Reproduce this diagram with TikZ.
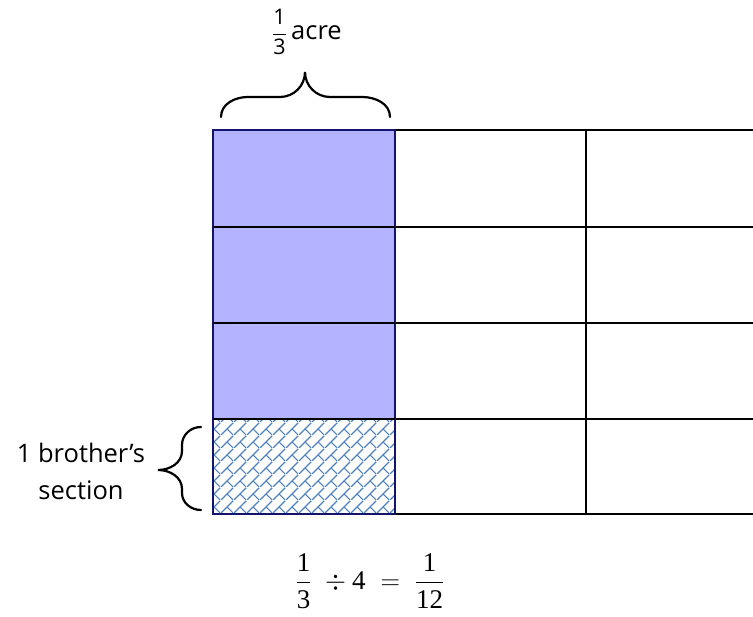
\RequirePackage{fix-cm}
\documentclass[tikz,border=0pt]{standalone}
\usepackage{amsmath}
\usepackage{fontspec}
\setmainfont{Open Sans}
\newfontfamily\eqfont{Liberation Serif}
\usepackage{tikz}
\usetikzlibrary{patterns, positioning, calc}

\definecolor{lavender}{RGB}{179,179,255}
\definecolor{navyline}{RGB}{20,20,110}
\definecolor{hatchblue}{RGB}{79,129,189}

\newcommand{\eqtxt}[1]{\text{\eqfont #1}}

% diagonal brick hatch
\pgfdeclarepatternformonly{diagbrick}{\pgfpointorigin}{\pgfpoint{13pt}{13pt}}{\pgfpoint{13pt}{13pt}}{
  \pgfsetlinewidth{1.2pt}
  \pgfpathmoveto{\pgfpointorigin}
  \pgfpathlineto{\pgfpoint{13pt}{13pt}}
  \pgfpathmoveto{\pgfpoint{6.5pt}{6.5pt}}
  \pgfpathlineto{\pgfpoint{13pt}{0pt}}
  \pgfusepath{stroke}
}

\begin{document}
\begin{tikzpicture}[x=1pt, y=1pt,
    gridline/.style={line width=2pt, black},
    label/.style={font=\fontsize{25.5}{37}\selectfont, align=center, inner sep=0pt},
    bracket/.style={line width=2.2pt, line cap=round}]
  \useasboundingbox (0,0) rectangle (753,617);

  % Grid corners
  \coordinate (TL) at (213,487);
  \coordinate (BL) at (213,103);
  \coordinate (C1) at (395,198);

  % Shaded third
  \fill[lavender] (213,198) rectangle (395,487);
  \fill[pattern=diagbrick, pattern color=hatchblue] (BL) rectangle (C1);

  % Grid lines (right side open)
  \foreach \y in {103,198,294,390,487}
    \draw[gridline] (213,\y) -- (753,\y);
  \foreach \x in {213,395,586}
    \draw[gridline] (\x,103) -- (\x,487);

  % Border of the first column
  \draw[navyline, line width=1.5pt] (BL) rectangle (395,487);
  \draw[gridline] (213,198) -- (395,198);
  \draw[gridline] (213,294) -- (395,294);
  \draw[gridline] (213,390) -- (395,390);

  % Top bracket
  \coordinate (ta) at (221,500);
  \coordinate (tb) at (390,500);
  \coordinate (tt) at (305,545);
  \draw[bracket] (ta) to[out=90, in=180] (248,520) -- (280,520)
    to[out=0, in=-90] (tt) to[out=-90, in=180] (330,520) -- (362,520)
    to[out=0, in=90] (tb);
  \node[label] (acre) at (307,585)
    {{\fontsize{21.5}{21.5}\selectfont$\dfrac{\text{1}}{\text{3}}$}\,acre};

  % Left bracket
  \coordinate (la) at (201,190);
  \coordinate (lb) at (201,107);
  \coordinate (lt) at (158,147);
  \draw[bracket] (la) to[out=180, in=90] (182,172) -- (182,166)
    to[out=-90, in=0] (lt) to[out=0, in=90] (182,128) -- (182,124)
    to[out=-90, in=180] (lb);
  \node[label] (brother) at (81,146) {1 brother’s\\section};

  % Equation
  \node[label, font=\fontsize{27}{37}\selectfont] (eqn) at (370,36)
    {$\displaystyle \frac{\eqtxt{1}}{\eqtxt{3}}\;\div \eqtxt{4}\;=\;\frac{\eqtxt{1}}{\eqtxt{12}}$};
\end{tikzpicture}
\end{document}
